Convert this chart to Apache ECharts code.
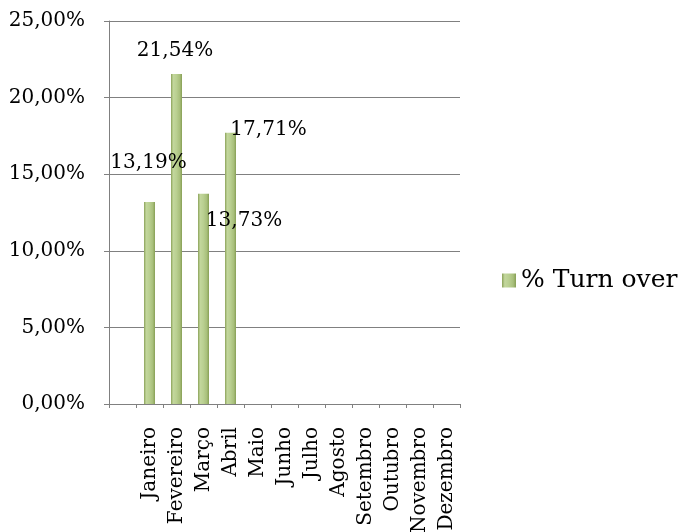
<!DOCTYPE html>
<html>
<head>
<meta charset="utf-8">
<script src="https://cdn.jsdelivr.net/npm/echarts@6/dist/echarts.min.js"></script>
<style>
html,body{margin:0;padding:0;background:#fff;}
#chart{width:683px;height:532px;}
</style>
</head>
<body>
<div id="chart"></div>
<script>
var categories = ['', 'Janeiro', 'Fevereiro', 'Março', 'Abril', 'Maio', 'Junho', 'Julho', 'Agosto', 'Setembro', 'Outubro', 'Novembro', 'Dezembro'];
var turnOver = [null, 13.19, 21.54, 13.73, 17.71, null, null, null, null, null, null, null, null];
var seriesName = '% Turn over';
var yTicks = { min: 0, max: 25, interval: 5 };

// label offsets (style only)
var labelOffsets = [null, [-1, -24], [-1.5, -8], [40.5, 42], [38, 12], null, null, null, null, null, null, null, null];

function pct(v) { return v.toFixed(2).replace('.', ',') + '%'; }

var barGradient = new echarts.graphic.LinearGradient(0, 0, 1, 0, [
  { offset: 0, color: '#8ba259' },
  { offset: 0.2, color: '#c3d79d' },
  { offset: 0.5, color: '#b9cf90' },
  { offset: 0.8, color: '#a8bf7b' },
  { offset: 1, color: '#879f55' }
]);

var data = turnOver.map(function (v, i) {
  if (v === null) return null;
  return {
    value: v,
    label: { offset: labelOffsets[i] }
  };
});

var chart = echarts.init(document.getElementById('chart'));
chart.setOption({
  backgroundColor: '#ffffff',
  animation: false,
  textStyle: { fontFamily: 'DejaVu Serif' },
  grid: { left: 109, right: 223, top: 21, bottom: 128, containLabel: false, outerBoundsMode: 'none' },
  legend: {
    show: true,
    left: 502,
    top: 268,
    padding: 0,
    itemWidth: 14,
    itemHeight: 14,
    icon: 'rect',
    textStyle: { fontFamily: 'DejaVu Serif', fontSize: 25, color: '#000' },
    data: [seriesName]
  },
  xAxis: {
    type: 'category',
    data: categories,
    boundaryGap: true,
    axisLine: { lineStyle: { color: '#808080', width: 1 } },
    axisTick: { show: true, interval: 0, length: 4, lineStyle: { color: '#808080' } },
    axisLabel: { interval: 0, rotate: 90, margin: 23, fontFamily: 'DejaVu Serif', fontSize: 20, color: '#000' },
    splitLine: { show: false }
  },
  yAxis: {
    type: 'value',
    min: yTicks.min,
    max: yTicks.max,
    interval: yTicks.interval,
    axisLine: { show: true, lineStyle: { color: '#808080', width: 1 } },
    axisTick: { show: true, length: 5, lineStyle: { color: '#808080' } },
    axisLabel: { margin: 24, fontFamily: 'DejaVu Serif', fontSize: 20, color: '#000', formatter: pct },
    splitLine: { show: true, lineStyle: { color: '#808080', width: 1 } }
  },
  series: [{
    name: seriesName,
    type: 'bar',
    barWidth: 11,
    data: data,
    itemStyle: { color: barGradient },
    label: {
      show: true,
      position: 'top',
      distance: 5,
      fontFamily: 'DejaVu Serif',
      fontSize: 20,
      color: '#000',
      formatter: function (p) { return pct(p.value); }
    }
  }]
});
</script>
</body>
</html>
